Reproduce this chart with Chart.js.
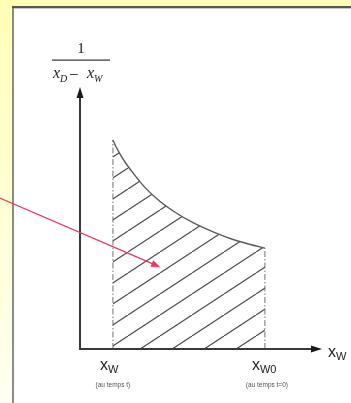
<!DOCTYPE html>
<html>
<head>
<meta charset="utf-8">
<script src="https://cdn.jsdelivr.net/npm/chart.js@4.4.1/dist/chart.umd.min.js"></script>
<style>
  html, body { margin: 0; padding: 0; background: #fffff0; }
  canvas { display: block; }
</style>
</head>
<body>
<canvas id="chart" width="351" height="403"></canvas>
<script>
// curve 1/(xD - xW) (arbitrary units, axis 0..10)
const curveX = [1.36, 1.50, 1.65, 1.90, 2.19, 2.70, 3.31, 3.93, 4.67, 5.50, 6.32, 7.00, 7.64];
const curveY = [7.98, 7.70, 7.45, 7.08, 6.72, 6.15, 5.63, 5.22, 4.82, 4.47, 4.18, 4.00, 3.85];

// labels under the two bounds
const boundSubs = ["W", "W0"];
const boundNotes = ["(au temps t)", "(au temps t=0)"];
const axisSub = "W";

const xW = curveX[0];
const xW0 = curveX[curveX.length - 1];

// hatch pattern for the area under the curve
function makeHatch() {
  const w = 32, h = 21;
  const tile = document.createElement("canvas");
  tile.width = w; tile.height = h;
  const c = tile.getContext("2d");
  c.strokeStyle = "#4e4e4e";
  c.lineWidth = 1.2;
  for (const dx of [-w, 0, w]) {
    c.beginPath();
    c.moveTo(dx, h);
    c.lineTo(dx + w, 0);
    c.stroke();
  }
  return c.createPattern(tile, "repeat");
}

function arrowHead(ctx, x, y, ang, len, half) {
  ctx.beginPath();
  ctx.moveTo(x, y);
  ctx.lineTo(x - len * Math.cos(ang) + half * Math.sin(ang), y - len * Math.sin(ang) - half * Math.cos(ang));
  ctx.lineTo(x - len * Math.cos(ang) - half * Math.sin(ang), y - len * Math.sin(ang) + half * Math.cos(ang));
  ctx.closePath();
  ctx.fill();
}

// x followed by a subscript
function subText(ctx, x, y, main, sub, mainFont, subFont, drop) {
  ctx.font = mainFont;
  ctx.fillText(main, x, y);
  const w = ctx.measureText(main).width;
  ctx.font = subFont;
  ctx.fillText(sub, x + w, y + drop);
}

const decor = {
  id: "decor",
  beforeDraw(chart) {
    const ctx = chart.ctx;
    const W = chart.width, H = chart.height;
    ctx.save();
    const g = ctx.createLinearGradient(0, 0, 0, H);
    g.addColorStop(0, "#ffffb8");
    g.addColorStop(1, "#fffff2");
    ctx.fillStyle = g;
    ctx.fillRect(0, 0, W, H);
    // white panel
    ctx.fillStyle = "#ffffff";
    ctx.fillRect(13, 7, W - 13, H - 7);
    ctx.fillStyle = "#8a8a8a";
    ctx.fillRect(12, 6, 2, H - 6);
    ctx.fillStyle = "#555555";
    ctx.fillRect(12, 6, W - 12, 2);
    ctx.fillStyle = "#c8c8c8";
    ctx.fillRect(14, 8, W - 14, 1);
    ctx.restore();
  },
  afterDraw(chart) {
    const ctx = chart.ctx;
    const xs = chart.scales.x, ys = chart.scales.y;
    const x0 = xs.getPixelForValue(0), y0 = ys.getPixelForValue(0);
    const xEnd = xs.getPixelForValue(10), yEnd = ys.getPixelForValue(10);
    ctx.save();
    // axes with arrowheads
    ctx.strokeStyle = "#3a3a3a";
    ctx.fillStyle = "#1a1a1a";
    ctx.lineWidth = 2;
    ctx.beginPath();
    ctx.moveTo(x0, yEnd + 6);
    ctx.lineTo(x0, y0);
    ctx.lineTo(xEnd - 6, y0);
    ctx.stroke();
    arrowHead(ctx, x0, yEnd, -Math.PI / 2, 11, 3.5);
    arrowHead(ctx, xEnd, y0, 0, 11, 3.5);

    // x labels
    ctx.fillStyle = "#222";
    ctx.textBaseline = "alphabetic";
    ctx.textAlign = "left";
    const sans = "'Liberation Sans', Arial, sans-serif";
    subText(ctx, xEnd + 6, y0 + 8, "x", axisSub, "16px " + sans, "11px " + sans, 3);
    const bounds = [xW, xW0];
    bounds.forEach((v, i) => {
      const px = xs.getPixelForValue(v);
      subText(ctx, px - 13, y0 + 21, "x", boundSubs[i], "16px " + sans, "11px " + sans, 3);
      ctx.font = "6.5px " + sans;
      ctx.fillStyle = "#555";
      ctx.textAlign = "center";
      ctx.fillText(boundNotes[i], px + (i === 0 ? 0 : 2), y0 + 38);
      ctx.textAlign = "left";
      ctx.fillStyle = "#222";
    });

    // y label: 1 / (xD - xW)
    const serif = "'Liberation Serif', 'DejaVu Serif', serif";
    const cx = x0 + 1;
    ctx.textAlign = "center";
    ctx.font = "15px " + serif;
    ctx.fillText("1", cx, 53);
    ctx.fillStyle = "#333";
    ctx.fillRect(cx - 29, 59.5, 58, 1.2);
    ctx.fillStyle = "#222";
    ctx.textAlign = "left";
    subText(ctx, cx - 28, 78, "x", "D", "italic 16px " + serif, "italic 10px " + serif, 4);
    ctx.font = "17px " + serif;
    ctx.fillText("\u2212", cx - 12, 80);
    subText(ctx, cx + 6, 78, "x", "W", "italic 16px " + serif, "italic 10px " + serif, 4);

    // red pointer into the hatched area
    const ax = xs.getPixelForValue(3.31), ay = ys.getPixelForValue(3.13);
    const sx = xs.getPixelForValue(-3.31), sy = ys.getPixelForValue(5.76);
    ctx.strokeStyle = "#e63a5c";
    ctx.fillStyle = "#e63a5c";
    ctx.lineWidth = 1.1;
    const ang = Math.atan2(ay - sy, ax - sx);
    ctx.beginPath();
    ctx.moveTo(sx, sy);
    ctx.lineTo(ax - 6 * Math.cos(ang), ay - 6 * Math.sin(ang));
    ctx.stroke();
    arrowHead(ctx, ax, ay, ang, 9, 3.5);
    ctx.restore();
  }
};

new Chart(document.getElementById("chart"), {
  type: "line",
  data: {
    datasets: [
      {
        data: curveX.map((x, i) => ({ x: x, y: curveY[i] })),
        borderColor: "#5a5a5a",
        borderWidth: 1.4,
        backgroundColor: makeHatch(),
        fill: "origin",
        pointRadius: 0,
        cubicInterpolationMode: "monotone"
      },
      {
        data: [{ x: xW, y: 0 }, { x: xW, y: curveY[0] }],
        borderColor: "#8c8c8c",
        borderWidth: 1.2,
        borderDash: [6, 2, 1.5, 2],
        pointRadius: 0,
        fill: false
      },
      {
        data: [{ x: xW0, y: 0 }, { x: xW0, y: curveY[curveY.length - 1] }],
        borderColor: "#8c8c8c",
        borderWidth: 1.2,
        borderDash: [6, 2, 1.5, 2],
        pointRadius: 0,
        fill: false
      }
    ]
  },
  options: {
    responsive: false,
    animation: false,
    devicePixelRatio: 1,
    layout: { padding: { left: 80, right: 29, top: 87, bottom: 54 } },
    plugins: { legend: { display: false }, tooltip: { enabled: false } },
    scales: {
      x: { type: "linear", min: 0, max: 10, display: false },
      y: { type: "linear", min: 0, max: 10, display: false }
    }
  },
  plugins: [decor]
});
</script>
</body>
</html>
